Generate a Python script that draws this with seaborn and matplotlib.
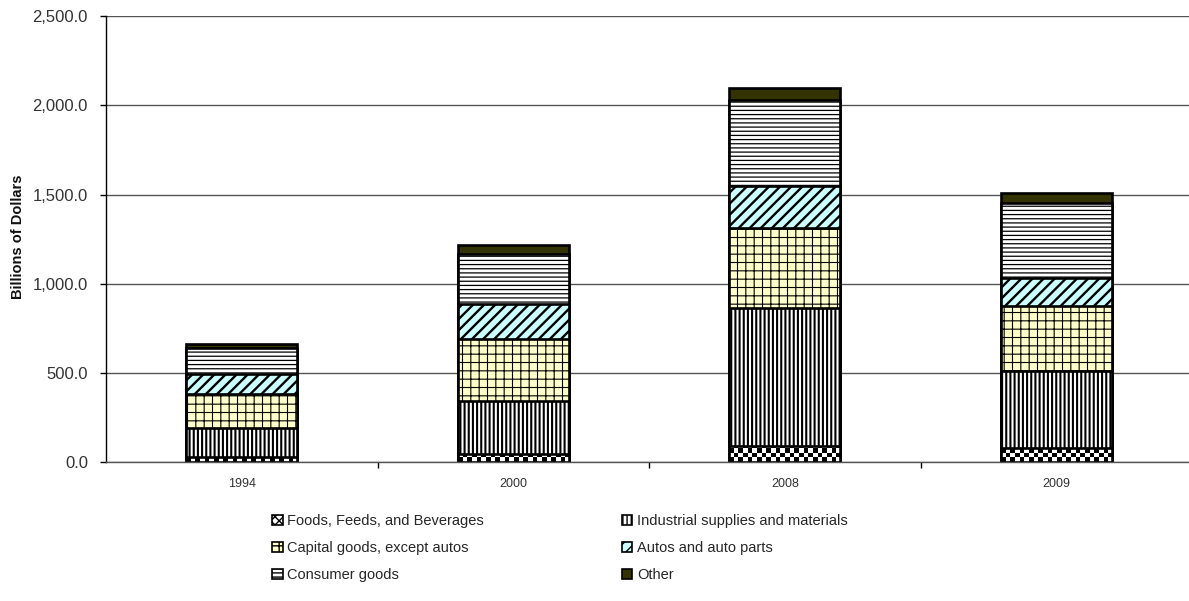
import numpy as np
import pandas as pd
import matplotlib
matplotlib.use("Agg")
import matplotlib.pyplot as plt
import seaborn as sns
from matplotlib.patches import Patch
from matplotlib.ticker import FuncFormatter, FixedLocator

# U.S. goods imports by end-use category (billions of dollars)
years = ["1994", "2000", "2008", "2009"]
categories = [
    "Foods, Feeds, and Beverages",
    "Industrial supplies and materials",
    "Capital goods, except autos",
    "Autos and auto parts",
    "Consumer goods",
    "Other",
]
foods = [31, 46, 89, 78]
industrial = [163, 297, 774, 435]
capital = [190, 348, 452, 362]
autos = [109, 194, 232, 155]
consumer = [147, 283, 482, 424]
other = [23, 49, 70, 56]

y_ticks = [0, 500, 1000, 1500, 2000, 2500]

# fill colour, hatch pattern and hatch line width for each segment
styles = [
    ("white", "", 1.0),        # foods: checkerboard drawn separately
    ("white", "||||", 1.5),
    ("#FFFFCC", "++", 0.8),
    ("#CCFFFF", "///", 1.7),
    ("white", "----", 0.9),
    ("#333300", "", 1.0),
]

sns.set_theme(style="white")
plt.rcParams["font.family"] = ["Liberation Sans", "DejaVu Sans"]

fig = plt.figure(figsize=(11.89, 6.01), dpi=100)
ax = fig.add_axes([106 / 1189, (601 - 462.3) / 601, 1086 / 1189, 446.3 / 601])

layers = np.array([foods, industrial, capital, autos, consumer, other], dtype=float)
cum = np.cumsum(layers, axis=0)

bar_width = 0.41
layer_patches = {}
# stacked bars: draw cumulative totals from the top layer down
for i in reversed(range(len(categories))):
    face, hatch, hlw = styles[i]
    df = pd.DataFrame({"year": years, "value": cum[i]})
    n_before = len(ax.patches)
    sns.barplot(data=df, x="year", y="value", order=years, color=face,
                saturation=1, width=bar_width, errorbar=None,
                edgecolor="black", linewidth=1.9, hatch=hatch or None, ax=ax)
    bars = ax.patches[n_before:]
    for b in bars:
        b.set_facecolor(face)
        if hasattr(b, "set_hatch_linewidth"):
            b.set_hatch_linewidth(hlw)
    layer_patches[i] = bars

ax.set_xlim(-0.5, 3.5)
ax.set_ylim(0, 2500)

# checkerboard fill for the food segments
fig.canvas.draw()
px_x = ax.bbox.width / 4.0
px_y = ax.bbox.height / 2500.0
for b in layer_patches[0]:
    x0, w, h = b.get_x(), b.get_width(), b.get_height()
    ncols = 24
    cell_px = w * px_x / ncols
    cell_h = cell_px / px_y
    nrows = int(np.ceil(h / cell_h)) + 1
    board = (np.add.outer(np.arange(nrows), np.arange(ncols)) % 2).astype(float)
    im = ax.imshow(board, cmap="gray", vmin=0, vmax=1, origin="lower",
                   extent=(x0, x0 + w, 0, nrows * cell_h), aspect="auto",
                   interpolation="nearest", zorder=b.get_zorder() + 0.5)
    im.set_clip_path(b)
    b.set_facecolor("none")
    b.set_zorder(b.get_zorder() + 1)

ax.set_xlim(-0.5, 3.5)
ax.set_ylim(0, 2500)

# axes styling
ax.yaxis.set_major_locator(FixedLocator(y_ticks))
ax.yaxis.set_major_formatter(FuncFormatter(lambda v, p: f"{v:,.1f}"))
ax.grid(axis="y", color="#555555", linewidth=1.0)
ax.grid(axis="x", visible=False)
ax.set_axisbelow(True)
for side in ("top", "right"):
    ax.spines[side].set_visible(False)
ax.spines["left"].set_color("black")
ax.spines["left"].set_linewidth(1.0)
ax.spines["bottom"].set_color("#555555")
ax.spines["bottom"].set_linewidth(1.0)

ax.tick_params(axis="y", which="major", left=True, length=4, width=1,
               color="black", direction="out", pad=9, labelsize=12,
               labelcolor="#333333")
ax.tick_params(axis="x", which="major", length=0, pad=11, labelsize=9,
               labelcolor="#333333")
ax.set_xticks(range(len(years)), years)
ax.xaxis.set_minor_locator(FixedLocator([0.5, 1.5, 2.5]))
ax.tick_params(axis="x", which="minor", bottom=True, length=4, width=1,
               color="black", direction="out")

ax.set_xlabel("")
ax.set_ylabel("Billions of Dollars", fontsize=10.5, fontweight="bold", color="#111111")
ax.yaxis.set_label_coords(-0.0746, 0.505)

# legend in row-major order across two columns
handles = []
for i in range(len(categories)):
    face, hatch, hlw = styles[i]
    if i == 0:
        h = Patch(facecolor="white", edgecolor="black", hatch="xxxx", linewidth=1.2)
    else:
        h = Patch(facecolor=face, edgecolor="black", hatch=hatch or None, linewidth=1.2)
    handles.append(h)
order = [0, 2, 4, 1, 3, 5]
fig.legend([handles[k] for k in order], [categories[k] for k in order],
           loc="upper center", bbox_to_anchor=(0.471, 0.166), ncol=2,
           frameon=False, fontsize=10.5, handlelength=0.7, handleheight=0.7,
           handletextpad=0.3, labelspacing=0.89, columnspacing=9.5)

fig.savefig("out.png", dpi=100)
